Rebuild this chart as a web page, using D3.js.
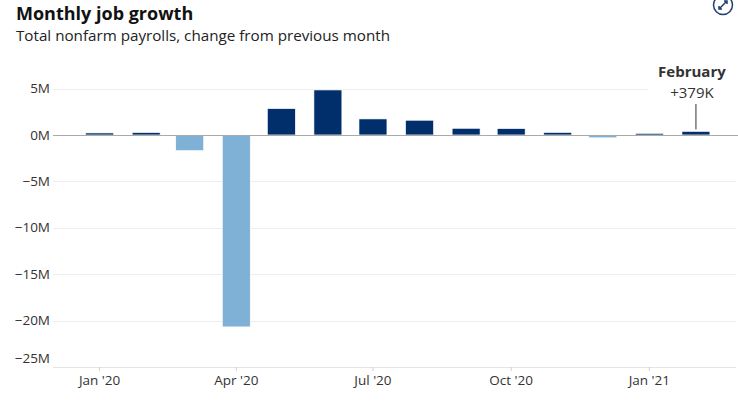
<!DOCTYPE html>
<html>
<head>
<meta charset="utf-8">
<script src="https://cdn.jsdelivr.net/npm/d3@7"></script>
<style>
  body { margin: 0; background: #fff; }
  svg { display: block; font-family: "Open Sans", "Lato", sans-serif; }
</style>
</head>
<body>
<div id="figure"></div>
<script>
// monthly change in total nonfarm payrolls, thousands
const months = ["2020-01", "2020-02", "2020-03", "2020-04", "2020-05", "2020-06", "2020-07",
                "2020-08", "2020-09", "2020-10", "2020-11", "2020-12", "2021-01", "2021-02"];
const changes = [214, 251, -1683, -20679, 2833, 4846, 1726, 1583, 716, 680, 264, -306, 166, 379];
const yTicks = [5000, 0, -5000, -10000, -15000, -20000, -25000];
const xTicks = ["2020-01", "2020-04", "2020-07", "2020-10", "2021-01"];

const parse = d3.timeParse("%Y-%m");
const data = months.map((m, i) => ({date: parse(m), value: changes[i]}));

const W = 738, H = 403;
const margin = {top: 64, right: 0, bottom: 36, left: 53};

const svg = d3.select("#figure")
  .append("svg")
  .attr("width", W)
  .attr("height", H);

// title
svg.append("text")
  .attr("x", 16).attr("y", 20)
  .attr("font-size", 18).attr("font-weight", 700).attr("fill", "#111")
  .text("Monthly job growth");
svg.append("text")
  .attr("x", 16).attr("y", 41)
  .attr("font-size", 15.2).attr("fill", "#222")
  .text("Total nonfarm payrolls, change from previous month");

const x = d3.scaleTime()
  .domain([new Date(2019, 11, 1), new Date(2021, 2, 1)])
  .range([margin.left, W - margin.right]);

const y = d3.scaleLinear()
  .domain([-25000, 7300])
  .range([367, 134.5 - 7300 * 0.00922]);

// gridlines
svg.append("g")
  .selectAll("line")
  .data(yTicks.filter(d => d !== 0 && d !== -25000))
  .join("line")
  .attr("x1", margin.left).attr("x2", W - 2)
  .attr("y1", d => Math.round(y(d)) + 0.5).attr("y2", d => Math.round(y(d)) + 0.5)
  .attr("stroke", "#eeeeee");

// bottom axis line
svg.append("line")
  .attr("x1", margin.left).attr("x2", W - 2)
  .attr("y1", Math.round(y(-25000)) + 0.5).attr("y2", Math.round(y(-25000)) + 0.5)
  .attr("stroke", "#e4e4e4");

// y labels
svg.append("g")
  .selectAll("text")
  .data(yTicks)
  .join("text")
  .attr("x", 50)
  .attr("y", d => y(d) + (d === -25000 ? -9 : 0))
  .attr("dy", "0.35em")
  .attr("text-anchor", "end")
  .attr("font-size", 13.5).attr("fill", "#333")
  .text(d => d3.format("d")(d / 1000) + "M");

// x ticks and labels
const xAxis = svg.append("g");
xAxis.selectAll("line")
  .data(xTicks)
  .join("line")
  .attr("x1", d => x(parse(d))).attr("x2", d => x(parse(d)))
  .attr("y1", 367).attr("y2", 371)
  .attr("stroke", "#d0d0d0");
xAxis.selectAll("text")
  .data(xTicks)
  .join("text")
  .attr("x", d => x(parse(d)))
  .attr("y", 385)
  .attr("text-anchor", "middle")
  .attr("font-size", 13.5).attr("fill", "#333")
  .text(d => d3.timeFormat("%b '%y")(parse(d)));

// bars
const barW = (x(parse("2020-02")) - x(parse("2020-01"))) * 0.6;
svg.append("g")
  .selectAll("rect")
  .data(data)
  .join("rect")
  .attr("x", d => x(d.date) - barW / 2)
  .attr("width", barW)
  .attr("y", d => y(Math.max(0, d.value)))
  .attr("height", d => Math.abs(y(d.value) - y(0)))
  .attr("fill", d => d.value >= 0 ? "#002f6c" : "#7fb1d6")
  .attr("stroke", "#fff")
  .attr("stroke-width", 0.6);

// zero line
svg.append("line")
  .attr("x1", margin.left).attr("x2", W)
  .attr("y1", Math.round(y(0)) + 0.5).attr("y2", Math.round(y(0)) + 0.5)
  .attr("stroke", "#aaaaaa");

// annotation for the latest month
const last = data[data.length - 1];
const ax = x(last.date);
svg.append("rect")
  .attr("x", 648).attr("y", 60).attr("width", 89).attr("height", 44)
  .attr("fill", "#fff");
svg.append("text")
  .attr("x", ax - 4).attr("y", 77)
  .attr("text-anchor", "middle")
  .attr("font-size", 15).attr("font-weight", 700).attr("fill", "#333")
  .text("February");
svg.append("text")
  .attr("x", ax - 4).attr("y", 98)
  .attr("text-anchor", "middle")
  .attr("font-size", 15).attr("fill", "#333")
  .text("+" + last.value + "K");
svg.append("line")
  .attr("x1", ax).attr("x2", ax)
  .attr("y1", 104).attr("y2", y(last.value) - 2)
  .attr("stroke", "#333").attr("stroke-width", 1);

// expand icon, top right
const icon = svg.append("g")
  .attr("transform", "translate(723,5)")
  .attr("fill", "none").attr("stroke", "#1f3f73").attr("stroke-width", 1.5);
icon.append("circle").attr("r", 9.5);
icon.append("path").attr("d", "M-4,4 L4,-4 M1,-4 L4,-4 L4,-1 M-4,1 L-4,4 L-1,4");
</script>
</body>
</html>
